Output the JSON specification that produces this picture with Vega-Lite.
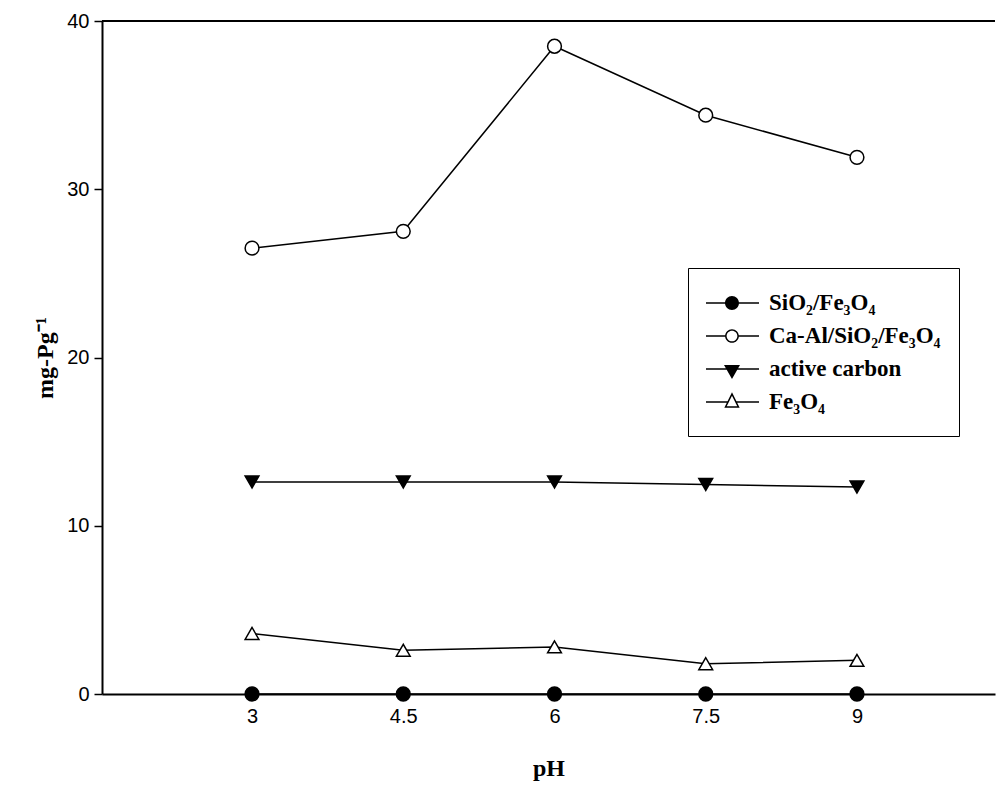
{
  "$schema": "https://vega.github.io/schema/vega-lite/v6.json",
  "width": 893,
  "height": 673,
  "autosize": "none",
  "padding": {"left": 102, "top": 21, "right": 1, "bottom": 91},
  "background": "white",
  "config": {"view": {"stroke": null}, "axis": {"grid": false}},
  "data": {
    "values": [
      {"pH": 3, "series": "SiO₂/Fe₃O₄", "v": 0},
      {"pH": 4.5, "series": "SiO₂/Fe₃O₄", "v": 0},
      {"pH": 6, "series": "SiO₂/Fe₃O₄", "v": 0},
      {"pH": 7.5, "series": "SiO₂/Fe₃O₄", "v": 0},
      {"pH": 9, "series": "SiO₂/Fe₃O₄", "v": 0},
      {"pH": 3, "series": "Ca-Al/SiO₂/Fe₃O₄", "v": 26.5},
      {"pH": 4.5, "series": "Ca-Al/SiO₂/Fe₃O₄", "v": 27.5},
      {"pH": 6, "series": "Ca-Al/SiO₂/Fe₃O₄", "v": 38.5},
      {"pH": 7.5, "series": "Ca-Al/SiO₂/Fe₃O₄", "v": 34.4},
      {"pH": 9, "series": "Ca-Al/SiO₂/Fe₃O₄", "v": 31.9},
      {"pH": 3, "series": "active carbon", "v": 12.6},
      {"pH": 4.5, "series": "active carbon", "v": 12.6},
      {"pH": 6, "series": "active carbon", "v": 12.6},
      {"pH": 7.5, "series": "active carbon", "v": 12.45},
      {"pH": 9, "series": "active carbon", "v": 12.3},
      {"pH": 3, "series": "Fe₃O₄", "v": 3.6},
      {"pH": 4.5, "series": "Fe₃O₄", "v": 2.6},
      {"pH": 6, "series": "Fe₃O₄", "v": 2.8},
      {"pH": 7.5, "series": "Fe₃O₄", "v": 1.8},
      {"pH": 9, "series": "Fe₃O₄", "v": 2.0}
    ]
  },
  "resolve": {"scale": {"shape": "independent"}, "legend": {"shape": "independent"}},
  "layer": [
    {
      "data": {"values": [{"top": 40}]},
      "mark": {"type": "rule", "color": "black", "strokeWidth": 2},
      "encoding": {
        "y": {"field": "top", "type": "quantitative", "scale": {"domain": [0, 40], "nice": false}}
      }
    },
    {
      "mark": {"type": "line", "color": "black", "strokeWidth": 1.5},
      "encoding": {
        "x": {
          "field": "pH", "type": "quantitative",
          "scale": {"domain": [1.512, 10.369], "nice": false, "zero": false},
          "axis": {
            "values": [3, 4.5, 6, 7.5, 9], "format": "~g", "ticks": false,
            "domainColor": "black", "domainWidth": 2,
            "labelFont": "Liberation Sans", "labelFontSize": 20, "labelColor": "black",
            "labelPadding": 12, "labelFlush": false,
            "title": "pH", "titleFont": "Liberation Serif", "titleFontSize": 24,
            "titleFontWeight": "bold", "titleColor": "black", "titlePadding": 30
          }
        },
        "y": {
          "field": "v", "type": "quantitative",
          "scale": {"domain": [0, 40], "nice": false},
          "axis": {
            "values": [0, 10, 20, 30, 40], "tickSize": 8, "tickWidth": 1.5, "tickColor": "black",
            "domainColor": "black", "domainWidth": 2,
            "labelFont": "Liberation Sans", "labelFontSize": 20, "labelColor": "black",
            "labelPadding": 5,
            "title": "mg-Pg⁻¹", "titleFont": "Liberation Serif", "titleFontSize": 24,
            "titleFontWeight": "bold", "titleColor": "black", "titlePadding": 9
          }
        },
        "detail": {"field": "series"}
      }
    },
    {
      "mark": {"type": "point", "filled": true, "stroke": "black", "strokeWidth": 1.5, "size": 190, "opacity": 1},
      "encoding": {
        "x": {"field": "pH", "type": "quantitative"},
        "y": {"field": "v", "type": "quantitative"},
        "fill": {
          "field": "series", "type": "nominal",
          "scale": {"domain": ["SiO₂/Fe₃O₄", "Ca-Al/SiO₂/Fe₃O₄", "active carbon", "Fe₃O₄"], "range": ["black", "white", "black", "white"]},
          "legend": null
        },
        "shape": {
          "field": "series", "type": "nominal",
          "scale": {"domain": ["SiO₂/Fe₃O₄", "Ca-Al/SiO₂/Fe₃O₄", "active carbon", "Fe₃O₄"], "range": ["circle", "circle", "triangle-down", "triangle-up"]},
          "legend": null
        }
      }
    },
    {
      "mark": {"type": "point", "filled": true, "color": "black", "strokeWidth": 0, "size": 1156, "opacity": 0},
      "encoding": {
        "x": {"field": "pH", "type": "quantitative"},
        "y": {"field": "v", "type": "quantitative"},
        "shape": {
          "field": "series", "type": "nominal",
          "scale": {
            "domain": ["SiO₂/Fe₃O₄", "Ca-Al/SiO₂/Fe₃O₄", "active carbon", "Fe₃O₄"],
            "range": [
              "M0.529,-0.9M0.529,0.9M-1,-0.044H2.118V0.044H-1ZM0.939,0A0.41,0.41,0,1,1,0.119,0A0.41,0.41,0,1,1,0.939,0Z",
              "M0.529,-0.9M0.529,0.9M-1,-0.044H0.14V0.044H-1ZM0.92,-0.044H2.118V0.044H0.92ZM0.933,0A0.404,0.404,0,1,1,0.125,0A0.404,0.404,0,1,1,0.933,0ZM0.845,0A0.316,0.316,0,1,0,0.213,0A0.316,0.316,0,1,0,0.845,0Z",
              "M0.529,-0.9M0.529,0.9M-1,-0.044H2.118V0.044H-1ZM0.059,-0.235H0.999L0.529,0.588Z",
              "M0.529,-0.9M0.529,0.9M-1,-0.044H0.3V0.044H-1ZM0.76,-0.044H2.118V0.044H0.76ZM0.529,-0.569L0.98,0.338L0.078,0.338ZM0.529,-0.371L0.22,0.25L0.838,0.25Z"
            ]
          },
          "legend": {
            "orient": "none", "legendX": 586, "legendY": 247, "title": null,
            "strokeColor": "black", "fillColor": "white", "padding": 18,
            "symbolSize": 1156, "symbolStrokeWidth": 0,
            "symbolFillColor": "black", "symbolOpacity": 1,
            "labelFont": "Liberation Serif", "labelFontSize": 23, "labelFontWeight": "bold",
            "labelColor": "black", "labelOffset": 29, "rowPadding": 0, "labelLimit": 500
          }
        }
      }
    }
  ]
}
